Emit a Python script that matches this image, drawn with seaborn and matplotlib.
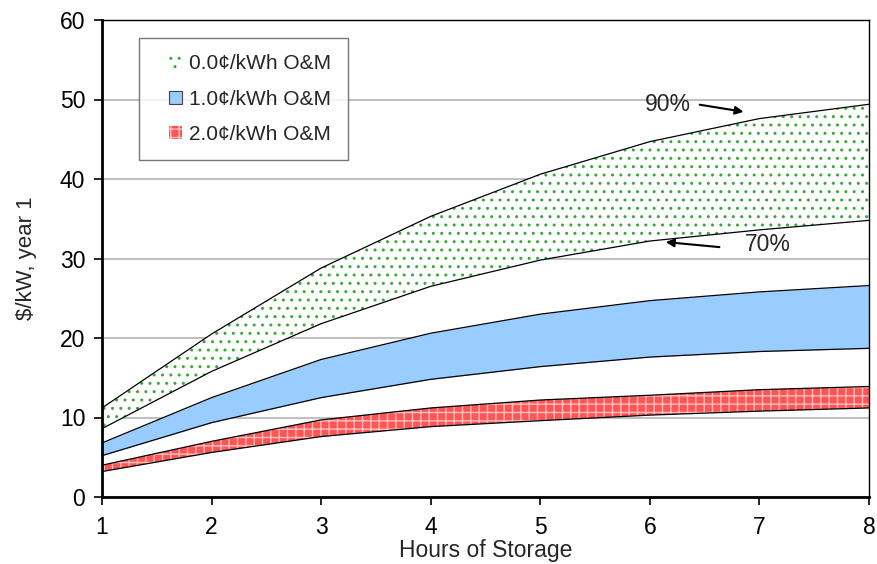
import matplotlib
matplotlib.use("Agg")
import matplotlib.pyplot as plt
from matplotlib.patches import Patch, Rectangle
from matplotlib.legend_handler import HandlerPatch
import seaborn as sns
import pandas as pd

hours = [1, 2, 3, 4, 5, 6, 7, 8]
om0_90 = [11.2, 20.5, 28.8, 35.3, 40.6, 44.7, 47.6, 49.4]
om0_70 = [8.6, 15.8, 21.8, 26.5, 29.8, 32.2, 33.6, 34.8]
om1_90 = [6.8, 12.5, 17.3, 20.6, 23.0, 24.7, 25.8, 26.6]
om1_70 = [5.2, 9.35, 12.5, 14.8, 16.4, 17.6, 18.3, 18.7]
om2_90 = [4.0, 7.0, 9.7, 11.2, 12.2, 12.8, 13.5, 13.9]
om2_70 = [3.2, 5.6, 7.6, 8.85, 9.6, 10.3, 10.8, 11.2]
labels = ["0.0¢/kWh O&M", "1.0¢/kWh O&M", "2.0¢/kWh O&M"]

sns.set_theme(style="white")
plt.rcParams['font.family'] = ['Liberation Sans', 'DejaVu Sans']
plt.rcParams['hatch.linewidth'] = 1.0

GREEN = "#3aa83a"
BLUE = "#99ccff"
RED = "#ff5555"
RED_H = "#ffc0c0"

fig = plt.figure(figsize=(8.77, 5.64), dpi=100)
ax = fig.add_axes([102/877, 1-497/564, (869-102)/877, (497-20)/564])

# bands
ax.fill_between(hours, om0_70, om0_90, facecolor="white", edgecolor=GREEN,
                hatch="..", linewidth=0, zorder=2)
ax.fill_between(hours, om1_70, om1_90, facecolor=BLUE, edgecolor=BLUE,
                linewidth=0, zorder=2)
ax.fill_between(hours, om2_70, om2_90, facecolor=RED, edgecolor=RED_H,
                hatch="++", linewidth=0, zorder=2)

df = pd.DataFrame({"h": hours * 6,
                   "v": om0_90 + om0_70 + om1_90 + om1_70 + om2_90 + om2_70,
                   "s": sum([[k] * 8 for k in range(6)], [])})
sns.lineplot(data=df, x="h", y="v", units="s", estimator=None, color="black",
             linewidth=0.9, ax=ax, zorder=3, legend=False)

ax.set_xlim(1, 8)
ax.set_ylim(0, 60)
ax.set_xticks(hours)
ax.set_yticks([0, 10, 20, 30, 40, 50, 60])
ax.yaxis.grid(True, color="#c0c0c0", linewidth=1.5, zorder=0)
ax.set_axisbelow(True)
for s in ax.spines.values():
    s.set_color("black")
    s.set_linewidth(1.0)
ax.spines["left"].set_linewidth(2.0)
ax.spines["bottom"].set_linewidth(2.0)
ax.tick_params(axis="both", labelsize=16.5, colors="black", direction="out",
               length=6, width=1.2, bottom=True, left=True)
ax.tick_params(axis="x", pad=8)
ax.tick_params(axis="y", pad=6)
ax.set_xlabel("Hours of Storage", fontsize=16.5)
ax.set_ylabel("$/kW, year 1", fontsize=16)
ax.xaxis.set_label_coords(0.5, -0.088)
ax.yaxis.set_label_coords(-0.085, 0.5)


def square(legend, orig_handle, xdescent, ydescent, width, height, fontsize):
    s = height
    return Rectangle((width - s - xdescent, -ydescent), s, s)


handles = [Patch(facecolor="white", edgecolor=GREEN, hatch="..", linewidth=0),
           Patch(facecolor=BLUE, edgecolor="#444444", linewidth=0.8),
           Patch(facecolor=RED, edgecolor=RED_H, hatch="++", linewidth=0)]
leg = ax.legend(handles, labels, loc="upper left", bbox_to_anchor=(0.048, 0.962),
                fontsize=15, frameon=True, fancybox=False, edgecolor="#555555",
                handlelength=1.3, handleheight=0.62, labelspacing=0.78,
                borderpad=0.78, handletextpad=0.35, borderaxespad=0,
                handler_map={Patch: HandlerPatch(patch_func=square)})
leg.get_frame().set_linewidth(1.0)
leg.set_zorder(5)

ax.annotate("", xy=(6.88, 48.4), xytext=(6.43, 49.4),
            arrowprops=dict(arrowstyle="-|>", color="black", lw=1.5,
                            mutation_scale=12), zorder=6)
ax.text(6.16, 49.4, "90%", fontsize=16.5, ha="center", va="center", zorder=6)
ax.annotate("", xy=(6.12, 32.1), xytext=(6.66, 31.4),
            arrowprops=dict(arrowstyle="-|>", color="black", lw=1.5,
                            mutation_scale=12), zorder=6)
ax.text(7.08, 31.8, "70%", fontsize=16.5, ha="center", va="center", zorder=6)

fig.savefig("out.png", dpi=100)
